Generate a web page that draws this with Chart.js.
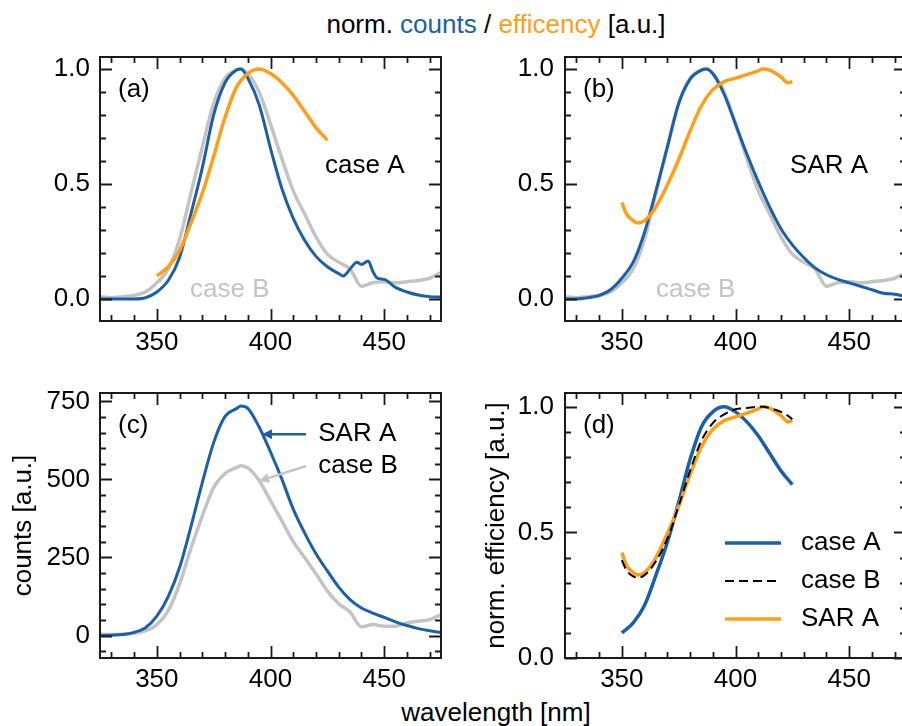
<!DOCTYPE html>
<html>
<head>
<meta charset="utf-8">
<script src="https://cdn.jsdelivr.net/npm/chart.js@4.4.1/dist/chart.umd.min.js"></script>
<style>
html, body { margin: 0; padding: 0; background: #fff; overflow: hidden; width: 902px; height: 726px; }
body { position: relative; font-family: 'Liberation Sans', Arial, Helvetica, sans-serif; }
canvas { position: absolute; }
.txt { position: absolute; left: 0; width: 992px; text-align: center; font-size: 26px; height: 30px; line-height: 30px; color: #000; white-space: nowrap; }
</style>
</head>
<body>
<div class="txt" id="title" style="top:9px">norm. <span style="color:#1a5fa8">counts</span> / <span style="color:#ff9e17">efficency</span> [a.u.]</div>
<canvas id="chartA" width="451" height="320" style="left:0;top:40px"></canvas>
<canvas id="chartB" width="465" height="320" style="left:451px;top:40px"></canvas>
<canvas id="chartC" width="451" height="320" style="left:0;top:375px"></canvas>
<canvas id="chartD" width="465" height="320" style="left:451px;top:375px"></canvas>
<div class="txt" id="xlabel" style="top:697px">wavelength [nm]</div>
<script>
// ---- data ----
const xTicks = [350, 400, 450];
const normTicks = [0, 0.5, 1.0];
const countTicks = [0, 250, 500, 750];

// spectra (wavelength grid in nm)
const specWl = [325, 330, 335, 340, 345, 350, 355, 360, 365, 370, 375, 380, 385, 387, 390, 395, 400,
                405, 410, 415, 420, 425, 430, 435, 440, 445, 450, 455, 460, 465, 470, 475];

const caseAWl = [325, 330, 335, 340, 345, 350, 355, 360, 365, 370, 375, 380, 385, 387, 390, 395, 400,
                 405, 410, 415, 420, 425, 430, 432, 435, 438, 440, 443, 445, 447, 450, 455, 460, 465, 470, 475];
const caseANorm = [0.0, 0.0, 0.0, 0.0, 0.005, 0.03, 0.08, 0.18, 0.37, 0.57, 0.8, 0.94, 0.995, 1.0, 0.96, 0.845, 0.655,
                   0.48, 0.35, 0.255, 0.185, 0.14, 0.11, 0.1, 0.13, 0.16, 0.15, 0.165, 0.12, 0.09, 0.085, 0.05, 0.03, 0.017, 0.01, 0.008];

const caseBNorm = [0.01, 0.005, 0.01, 0.015, 0.03, 0.07, 0.13, 0.26, 0.46, 0.66, 0.85, 0.96, 0.995, 1.0, 0.98, 0.9, 0.76,
                   0.61, 0.47, 0.37, 0.27, 0.195, 0.16, 0.13, 0.055, 0.07, 0.075, 0.07, 0.075, 0.08, 0.09, 0.115];

const sarANorm = [0.0, 0.0, 0.005, 0.015, 0.04, 0.09, 0.16, 0.29, 0.47, 0.66, 0.85, 0.955, 0.995, 1.0, 0.98, 0.89, 0.76,
                  0.63, 0.51, 0.4, 0.305, 0.235, 0.18, 0.135, 0.105, 0.085, 0.07, 0.055, 0.04, 0.025, 0.02, 0.01];

const sarACounts = [0, 1, 3, 10, 25, 62, 125, 218, 349, 490, 618, 702, 727, 735, 728, 668, 588,
                    501, 405, 329, 262, 207, 155, 115, 88, 72, 58, 44, 32, 22, 15, 10];
const caseBCounts = [5, 3, 4, 7, 15, 35, 80, 165, 279, 383, 474, 519, 538, 544, 537, 497, 432,
                     367, 301, 250, 198, 143, 102, 75, 28, 35, 30, 30, 40, 46, 51, 67];

// efficiencies
const effWl = [350, 355, 360, 365, 370, 375, 380, 385, 390, 395, 400, 405, 410, 415, 420, 425];
const caseAEff = [0.1, 0.14, 0.21, 0.33, 0.46, 0.62, 0.79, 0.92, 0.98, 1.0, 0.98, 0.94, 0.885, 0.815, 0.745, 0.69];

const effWl2 = [350, 352, 355, 357, 360, 365, 370, 375, 380, 385, 390, 395, 400, 405, 410, 412, 415, 420, 423, 425];
const sarAEff = [0.42, 0.37, 0.34, 0.33, 0.34, 0.4, 0.495, 0.605, 0.73, 0.84, 0.91, 0.945, 0.96, 0.975, 0.992, 1.0, 0.995, 0.965, 0.94, 0.945];
const caseBEff = [0.39, 0.35, 0.325, 0.32, 0.33, 0.385, 0.475, 0.605, 0.745, 0.865, 0.935, 0.97, 0.99, 0.995, 1.0, 1.0, 0.995, 0.98, 0.965, 0.95];

const BLUE = '#1a5fa8', ORANGE = '#ff9e17', GRAY = '#c3c3c3';

Chart.defaults.font.family = "'Liberation Sans', Arial, Helvetica, sans-serif";
Chart.defaults.font.size = 26;
Chart.defaults.color = '#000';

const xy = (xs, ys) => xs.map((v, i) => ({ x: v, y: ys[i] }));

function series(label, xs, ys, color, width, order, dash) {
    return {
        label, data: xy(xs, ys), borderColor: color, borderWidth: width, borderDash: dash || [],
        pointRadius: 0, fill: false, cubicInterpolationMode: 'monotone', order
    };
}

// frame, inward ticks, labels, arrows, legend
function decor(cfg) {
    return {
        id: 'decor',
        afterDraw(chart) {
            const { ctx, chartArea: a, scales: { x, y } } = chart;
            ctx.save();
            ctx.strokeStyle = '#1a1a1a';
            ctx.lineWidth = 1.8;
            ctx.beginPath();
            // x ticks
            for (let k = Math.ceil(325 / 10); k <= Math.floor(475 / 10); k++) {
                const v = k * 10, p = Math.round(x.getPixelForValue(v)) + 0.5;
                const len = xTicks.includes(v) ? 12 : 6;
                ctx.moveTo(p, a.bottom); ctx.lineTo(p, a.bottom - len);
                ctx.moveTo(p, a.top); ctx.lineTo(p, a.top + len);
            }
            // y ticks
            const st = cfg.yMinor;
            for (let k = Math.ceil(cfg.yMin / st); k <= Math.floor(cfg.yMax / st); k++) {
                const v = k * st, p = Math.round(y.getPixelForValue(v)) + 0.5;
                const len = cfg.yTicks.some(t => Math.abs(t - v) < st / 10) ? 12 : 6;
                ctx.moveTo(a.left, p); ctx.lineTo(a.left + len, p);
                ctx.moveTo(a.right, p); ctx.lineTo(a.right - len, p);
            }
            ctx.stroke();
            ctx.lineWidth = 2;
            ctx.strokeRect(a.left, a.top, a.right - a.left, a.bottom - a.top);

            ctx.font = "26px 'Liberation Sans', Arial, sans-serif";
            ctx.textBaseline = 'middle';
            ctx.textAlign = 'left';
            ctx.fillStyle = '#000';
            ctx.fillText(cfg.panel, a.left + 18, a.top + 33);

            (cfg.texts || []).forEach(t => {
                ctx.fillStyle = t.c || '#000';
                ctx.fillText(t.t, x.getPixelForValue(t.x), y.getPixelForValue(t.y));
            });

            (cfg.arrows || []).forEach(r => {
                const x1 = x.getPixelForValue(r.x1), y1 = y.getPixelForValue(r.y1);
                const x2 = x.getPixelForValue(r.x2), y2 = y.getPixelForValue(r.y2);
                const ang = Math.atan2(y2 - y1, x2 - x1);
                ctx.strokeStyle = r.c; ctx.fillStyle = r.c; ctx.lineWidth = 2.5;
                ctx.beginPath();
                ctx.moveTo(x1, y1);
                ctx.lineTo(x2 - 7 * Math.cos(ang), y2 - 7 * Math.sin(ang));
                ctx.stroke();
                ctx.beginPath();
                ctx.moveTo(x2, y2);
                ctx.lineTo(x2 - 10 * Math.cos(ang) + 5 * Math.sin(ang), y2 - 10 * Math.sin(ang) - 5 * Math.cos(ang));
                ctx.lineTo(x2 - 10 * Math.cos(ang) - 5 * Math.sin(ang), y2 - 10 * Math.sin(ang) + 5 * Math.cos(ang));
                ctx.closePath();
                ctx.fill();
            });

            if (cfg.legend) {
                chart.data.datasets.forEach((ds, i) => {
                    const yy = a.top + 150 + i * 38;
                    ctx.strokeStyle = ds.borderColor;
                    ctx.lineWidth = ds.borderWidth;
                    ctx.setLineDash(ds.borderDash);
                    ctx.beginPath();
                    ctx.moveTo(a.left + 160, yy); ctx.lineTo(a.left + 216, yy);
                    ctx.stroke();
                    ctx.setLineDash([]);
                    ctx.fillStyle = '#000';
                    ctx.fillText(ds.label, a.left + 236, yy);
                });
            }
            ctx.restore();
        }
    };
}

function noPad(s) {
    s.paddingTop = 0; s.paddingBottom = 0; s.paddingLeft = 0; s.paddingRight = 0;
}

function makeChart(id, cfg) {
    return new Chart(document.getElementById(id), {
        type: 'line',
        data: { datasets: cfg.datasets },
        options: {
            responsive: false,
            animation: false,
            layout: { padding: { top: cfg.padTop, right: 10, left: 0, bottom: 0 } },
            plugins: { legend: { display: false }, tooltip: { enabled: false } },
            scales: {
                x: {
                    type: 'linear', min: 325, max: 475,
                    grid: { display: false, drawTicks: false }, border: { display: false },
                    afterBuildTicks: s => { s.ticks = xTicks.map(v => ({ value: v })); },
                    afterFit: s => { s.height = cfg.xH; noPad(s); },
                    ticks: { padding: 6, maxRotation: 0, autoSkip: false, callback: v => String(v) }
                },
                y: {
                    type: 'linear', min: cfg.yMin, max: cfg.yMax,
                    grid: { display: false, drawTicks: false }, border: { display: false },
                    afterBuildTicks: s => { s.ticks = cfg.yTicks.map(v => ({ value: v })); },
                    afterFit: s => { s.width = cfg.yW; noPad(s); },
                    ticks: { padding: cfg.yPad, autoSkip: false, callback: cfg.fmt },
                    title: cfg.yTitle || { display: false }
                }
            }
        },
        plugins: [decor(cfg)]
    });
}

const fmt1 = v => v.toFixed(1);
const fmt0 = v => String(v);

makeChart('chartA', {
    panel: '(a)', padTop: 17, xH: 39, yW: 100, yPad: 10, yMin: -0.096, yMax: 1.052, yTicks: normTicks, yMinor: 0.1, fmt: fmt1,
    datasets: [
        series('case B', specWl, caseBNorm, GRAY, 3.5, 3),
        series('case A', caseAWl, caseANorm, BLUE, 3, 2),
        series('case A eff', effWl, caseAEff, ORANGE, 3.5, 1)
    ],
    texts: [{ t: 'case A', x: 424, y: 0.578 }, { t: 'case B', x: 364.6, y: 0.04, c: GRAY }]
});

makeChart('chartB', {
    panel: '(b)', padTop: 17, xH: 39, yW: 114, yPad: 11, yMin: -0.096, yMax: 1.052, yTicks: normTicks, yMinor: 0.1, fmt: fmt1,
    datasets: [
        series('case B', specWl, caseBNorm, GRAY, 3.5, 3),
        series('SAR A', specWl, sarANorm, BLUE, 3, 2),
        series('SAR A eff', effWl2, sarAEff, ORANGE, 3.5, 1)
    ],
    texts: [{ t: 'SAR A', x: 424, y: 0.578 }, { t: 'case B', x: 365, y: 0.04, c: GRAY }]
});

makeChart('chartC', {
    panel: '(c)', padTop: 18, xH: 37, yW: 100, yPad: 10, yMin: -72, yMax: 777, yTicks: countTicks, yMinor: 50, fmt: fmt0,
    yTitle: { display: true, text: 'counts [a.u.]', font: { size: 26 }, color: '#000', padding: { top: 8, bottom: 0 } },
    datasets: [
        series('case B', specWl, caseBCounts, GRAY, 3.5, 2),
        series('SAR A', specWl, sarACounts, BLUE, 3, 1)
    ],
    texts: [{ t: 'SAR A', x: 421, y: 645 }, { t: 'case B', x: 421, y: 543 }],
    arrows: [{ x1: 415.6, y1: 645, x2: 396.3, y2: 645, c: BLUE }, { x1: 415.6, y1: 543, x2: 395, y2: 495, c: GRAY }]
});

makeChart('chartD', {
    panel: '(d)', padTop: 18, xH: 37, yW: 114, yPad: 11, yMin: 0, yMax: 1.055, yTicks: normTicks, yMinor: 0.1, fmt: fmt1,
    yTitle: { display: true, text: 'norm. efficiency [a.u.]', font: { size: 26 }, color: '#000', padding: { top: 30, bottom: 0 } },
    datasets: [
        series('case A', effWl, caseAEff, BLUE, 3.5, 3),
        series('case B', effWl2, caseBEff, '#000', 2, 1, [9, 5]),
        series('SAR A', effWl2, sarAEff, ORANGE, 3.5, 2)
    ],
    legend: true
});
</script>
</body>
</html>
